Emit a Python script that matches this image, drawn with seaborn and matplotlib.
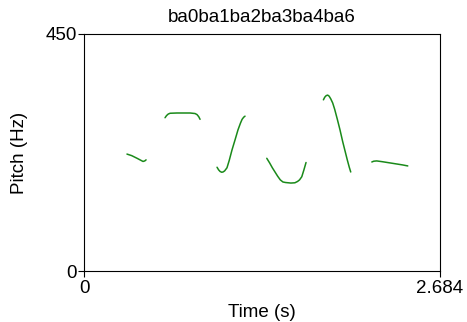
import numpy as np
import pandas as pd
import matplotlib
matplotlib.use("Agg")
import matplotlib.pyplot as plt
import seaborn as sns

# contornos de pitch por sílaba (tiempo en s, frecuencia en Hz)
t_seg1 = [0.324, 0.36, 0.40, 0.43, 0.445, 0.458, 0.468]
hz_seg1 = [222, 219, 214, 210, 208, 209, 211]
t_seg2 = [0.611, 0.622, 0.635, 0.649, 0.70, 0.75, 0.80, 0.837, 0.852, 0.865, 0.875]
hz_seg2 = [291, 295, 298, 299.5, 300, 300, 300, 299, 297, 293, 288]
t_seg3 = [1.003, 1.015, 1.026, 1.038, 1.048, 1.06, 1.078, 1.095, 1.116, 1.14, 1.161, 1.18, 1.192, 1.204, 1.214]
hz_seg3 = [197, 192, 189, 187.5, 188, 190, 196, 210, 230, 250, 268, 281, 288, 292, 294]
t_seg4 = [1.378, 1.40, 1.42, 1.44, 1.46, 1.48, 1.50, 1.52, 1.56, 1.59, 1.61, 1.625, 1.642, 1.658, 1.674]
hz_seg4 = [214, 205, 196, 188, 180, 173, 169, 168, 167, 167.5, 170, 173, 179, 192, 206]
t_seg5 = [1.805, 1.815, 1.826, 1.837, 1.848, 1.86, 1.875, 1.89, 1.91, 1.93, 1.95, 1.97, 1.985, 2.0, 2.011]
hz_seg5 = [325, 330, 333, 334, 332, 327, 319, 307, 288, 268, 246, 226, 211, 197, 188]
t_seg6 = [2.170, 2.185, 2.207, 2.25, 2.30, 2.35, 2.40, 2.441]
hz_seg6 = [207, 208.5, 209, 207.5, 205.5, 203.5, 201.5, 199.5]

segmentos = [(t_seg1, hz_seg1), (t_seg2, hz_seg2), (t_seg3, hz_seg3),
             (t_seg4, hz_seg4), (t_seg5, hz_seg5), (t_seg6, hz_seg6)]

x_max = 2.684
y_max = 450
titulo = "ba0ba1ba2ba3ba4ba6"

df = pd.concat([pd.DataFrame({"t": t, "hz": hz, "seg": i})
                for i, (t, hz) in enumerate(segmentos)], ignore_index=True)

sns.set_style("white")
plt.rcParams["font.family"] = ["Liberation Sans", "DejaVu Sans"]
plt.rcParams["text.color"] = "black"
plt.rcParams["axes.labelcolor"] = "black"
plt.rcParams["xtick.color"] = "black"
plt.rcParams["ytick.color"] = "black"

fig = plt.figure(figsize=(4.67, 3.22), dpi=100)
ax = fig.add_axes([84 / 467, 1 - 271 / 322, 356 / 467, 237 / 322])

sns.lineplot(data=df, x="t", y="hz", units="seg", estimator=None,
             color="#1a8a1a", linewidth=1.1, ax=ax)

ax.set_xlim(0, x_max)
ax.set_ylim(0, y_max)
ax.set_xticks([0, x_max])
ax.set_xticklabels(["0", "2.684"])
ax.set_yticks([0, y_max])
ax.set_yticklabels(["0", "450"])
ax.tick_params(direction="out", length=4, width=0.8, colors="black",
               labelsize=13.5, pad=1, left=True, bottom=True)
ax.tick_params(axis="x", pad=2.5)
for s in ax.spines.values():
    s.set_visible(True)
    s.set_color("black")
    s.set_linewidth(0.8)

ax.set_xlabel("Time (s)", fontsize=13.5, labelpad=5)
ax.set_ylabel("Pitch (Hz)", fontsize=13.5, labelpad=13)
ax.set_title(titulo, fontsize=13.5, pad=9, color="black")

plt.savefig("out.png", dpi=100)
plt.close()
